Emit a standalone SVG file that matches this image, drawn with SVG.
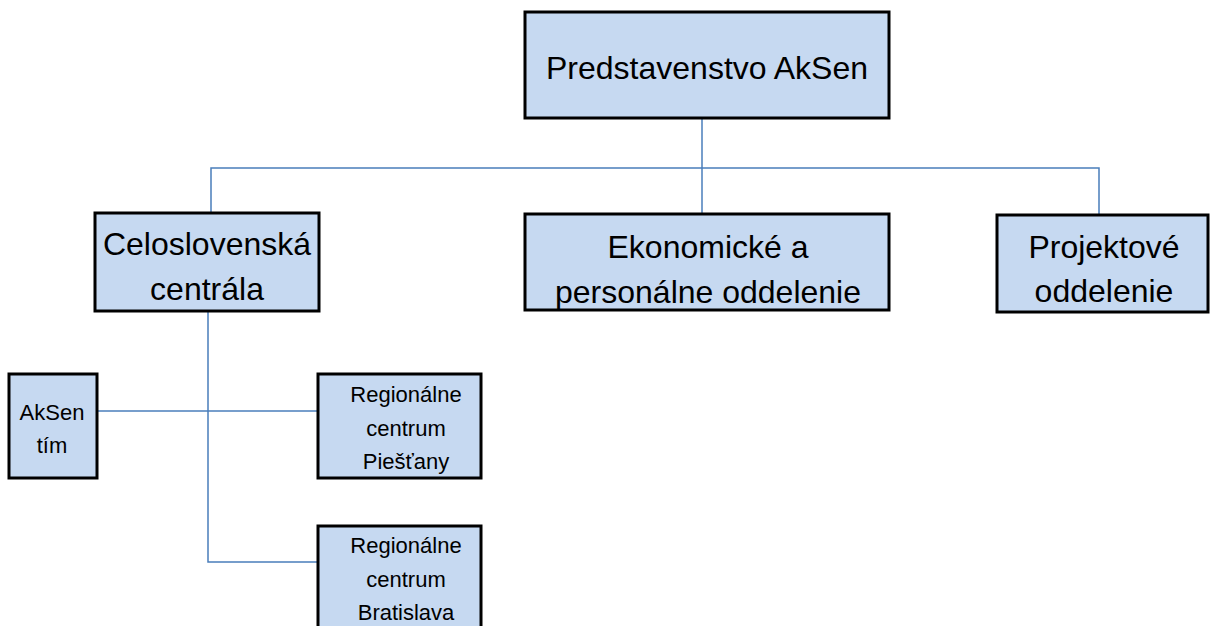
<svg xmlns="http://www.w3.org/2000/svg" width="1210" height="626" viewBox="0 0 1210 626">
<style>
.box{fill:#c6d9f1;stroke:#000;stroke-width:3}
.conn{fill:none;stroke:#4a7ebb;stroke-width:1.5}
.big{font-family:"Liberation Sans",Arial,sans-serif;font-size:32px;fill:#000;text-anchor:middle}
.small{font-family:"Liberation Sans",Arial,sans-serif;font-size:22px;fill:#000;text-anchor:middle}
</style>
<rect width="1210" height="626" fill="#fff"/>
<g id="connectors">
<path class="conn" d="M702 118 V214"/>
<path class="conn" d="M211 213 V168 H1099 V215"/>
<path class="conn" d="M208 311 V562 H320"/>
<path class="conn" d="M97 411 H320"/>
</g>
<g id="n-predstavenstvo">
<rect class="box" x="525" y="12" width="364" height="106"/>
<text class="big" x="707" y="79">Predstavenstvo AkSen</text>
</g>
<g id="n-celoslovenska">
<rect class="box" x="95" y="213" width="224" height="98"/>
<text class="big" x="207" y="255">Celoslovenská</text>
<text class="big" x="207" y="300">centrála</text>
</g>
<g id="n-ekonomicke">
<rect class="box" x="525" y="214" width="364" height="96"/>
<text class="big" x="708" y="258">Ekonomické a</text>
<text class="big" x="708" y="303">personálne oddelenie</text>
</g>
<g id="n-projektove">
<rect class="box" x="997" y="215" width="211" height="97"/>
<text class="big" x="1104" y="258">Projektové</text>
<text class="big" x="1104" y="302">oddelenie</text>
</g>
<g id="n-aksen-tim">
<rect class="box" x="9" y="374" width="88" height="104"/>
<text class="small" x="52" y="420">AkSen</text>
<text class="small" x="52" y="453">tím</text>
</g>
<g id="n-piestany">
<rect class="box" x="318" y="374" width="163" height="104"/>
<text class="small" x="406" y="402">Regionálne</text>
<text class="small" x="406" y="436">centrum</text>
<text class="small" x="406" y="469">Piešťany</text>
</g>
<g id="n-bratislava">
<rect class="box" x="318" y="526" width="163" height="110"/>
<text class="small" x="406" y="553">Regionálne</text>
<text class="small" x="406" y="587">centrum</text>
<text class="small" x="406" y="620">Bratislava</text>
</g>
</svg>
